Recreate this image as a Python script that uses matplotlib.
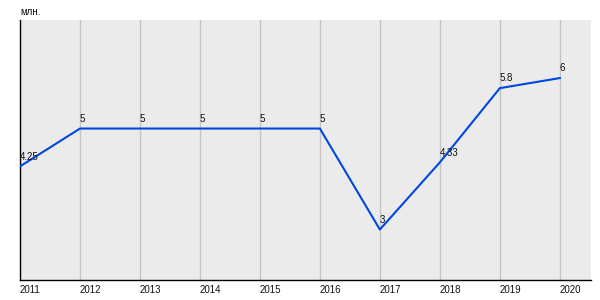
import matplotlib.pyplot as plt

years = [2011, 2012, 2013, 2014, 2015, 2016, 2017, 2018, 2019, 2020]
values = [4.25, 5, 5, 5, 5, 5, 3, 4.33, 5.8, 6]
labels = ['4.25', '5', '5', '5', '5', '5', '3', '4.33', '5.8', '6']
unit = 'млн.'

plt.rcParams['font.family'] = ['Liberation Sans', 'DejaVu Sans']

fig = plt.figure(figsize=(6, 3), dpi=100)
ax = fig.add_axes([20 / 600, 20 / 300, 571 / 600, 260 / 300])
ax.set_facecolor('#ebebeb')

ax.plot(years, values, color='#0047e0', linewidth=1.5, zorder=3)
for x, y, t in zip(years, values, labels):
    ax.annotate(t, (x, y), xytext=(0, 3.5), textcoords='offset points',
                ha='left', va='bottom', fontsize=7, color='#111111', zorder=4)

ax.set_xlim(2011, 2020.52)
ax.set_ylim(2.0, 7.15)
ax.set_xticks(years)
ax.set_xticklabels([str(y) for y in years], ha='left', fontsize=7, color='#111111')
ax.tick_params(axis='x', length=0, pad=3.5)
ax.set_yticks([])
ax.grid(axis='x', color='#c4c4c4', linewidth=1)
ax.set_axisbelow(True)

for s in ['top', 'right']:
    ax.spines[s].set_visible(False)
ax.spines['left'].set_color('black')
ax.spines['bottom'].set_color('black')
ax.spines['left'].set_linewidth(1)
ax.spines['bottom'].set_linewidth(1)

fig.text(20 / 600, 1 - 12 / 300, unit, fontsize=7, color='#111111', va='center', ha='left')

fig.savefig('out.png', dpi=100)
